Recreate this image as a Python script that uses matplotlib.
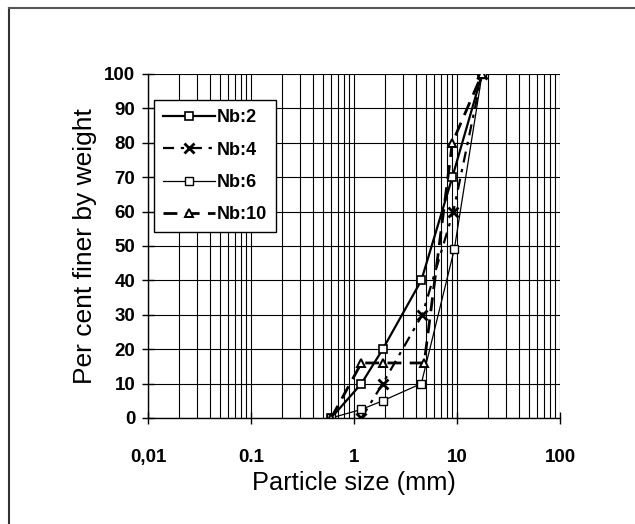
import matplotlib
matplotlib.use('Agg')
import matplotlib.pyplot as plt
from matplotlib.lines import Line2D
from matplotlib.ticker import FixedLocator, FixedFormatter, NullFormatter

plt.rcParams['font.family'] = ['Liberation Sans', 'DejaVu Sans']

# particle size (mm) and per cent finer for each sample
nb2_x = [0.6, 1.18, 1.9, 4.5, 9.0, 17.5]
nb2_y = [0, 10, 20, 40, 70, 100]
nb4_x = [1.18, 1.9, 4.6, 9.2, 17.5]
nb4_y = [0, 10, 30, 60, 100]
nb6_x = [0.6, 1.18, 1.9, 4.5, 9.4, 17.5]
nb6_y = [0, 2.5, 5, 10, 49, 100]
nb10_x = [0.6, 1.18, 1.9, 4.8, 9.0, 17.5]
nb10_y = [0, 16, 16, 16, 80, 100]

x_ticks = [0.01, 0.1, 1, 10, 100]
x_labels = ['0,01', '0.1', '1', '10', '100']
y_ticks = list(range(0, 101, 10))

fig = plt.figure(figsize=(6.35, 5.24), dpi=100)
ax = fig.add_axes([0.233, 0.2023, 0.649, 0.6565])

ax.plot(nb2_x, nb2_y, color='black', lw=1.6, ls='-', marker='s', ms=6,
        mfc='white', mec='black', mew=1.2, label='Nb:2')
ax.plot(nb4_x, nb4_y, color='black', lw=1.6, ls=(0, (5, 3, 1.5, 3)), marker='x', ms=7,
        mew=2, label='Nb:4')
ax.plot(nb6_x, nb6_y, color='black', lw=0.9, ls='-', marker='s', ms=5.5,
        mfc='white', mec='black', mew=1.0, label='Nb:6')
ax.plot(nb10_x, nb10_y, color='black', lw=2, ls=(0, (5, 3)), marker='^', ms=6,
        mfc='white', mec='black', mew=1.4, label='Nb:10')

ax.set_xscale('log')
ax.set_xlim(0.01, 100)
ax.set_ylim(0, 100)
ax.xaxis.set_major_locator(FixedLocator(x_ticks))
ax.xaxis.set_major_formatter(FixedFormatter(x_labels))
ax.xaxis.set_minor_formatter(NullFormatter())
ax.set_yticks(y_ticks)

ax.grid(True, which='both', color='black', lw=0.8)
for s in ['top', 'right']:
    ax.spines[s].set_visible(False)
for s in ['left', 'bottom']:
    ax.spines[s].set_linewidth(1.0)

ax.tick_params(axis='both', which='major', direction='inout', length=8, width=1,
               labelsize=13.5, pad=5)
ax.tick_params(axis='x', which='major', pad=18)
ax.tick_params(axis='x', which='minor', length=0)
for lab in ax.get_xticklabels() + ax.get_yticklabels():
    lab.set_fontweight('bold')

ax.set_xlabel('Particle size (mm)', fontsize=18.3, labelpad=4)
ax.set_ylabel('Per cent finer by weight', fontsize=19, labelpad=5)

leg = ax.legend(loc='upper left', bbox_to_anchor=(0.0146, 0.924), fontsize=13,
                fancybox=False, edgecolor='black', framealpha=1,
                handlelength=2.9, handletextpad=0.1, labelspacing=0.85,
                borderpad=0.5, borderaxespad=0)
leg.get_frame().set_linewidth(1.0)
for t in leg.get_texts():
    t.set_fontweight('bold')

# outer frame lines (top and left)
fig.add_artist(Line2D([9 / 635, 9 / 635], [0, 1 - 8 / 524], color='#333333', lw=1.5))
fig.add_artist(Line2D([9 / 635, 1], [1 - 8 / 524, 1 - 8 / 524], color='#555555', lw=1.5))

fig.savefig('out.png', dpi=100)
